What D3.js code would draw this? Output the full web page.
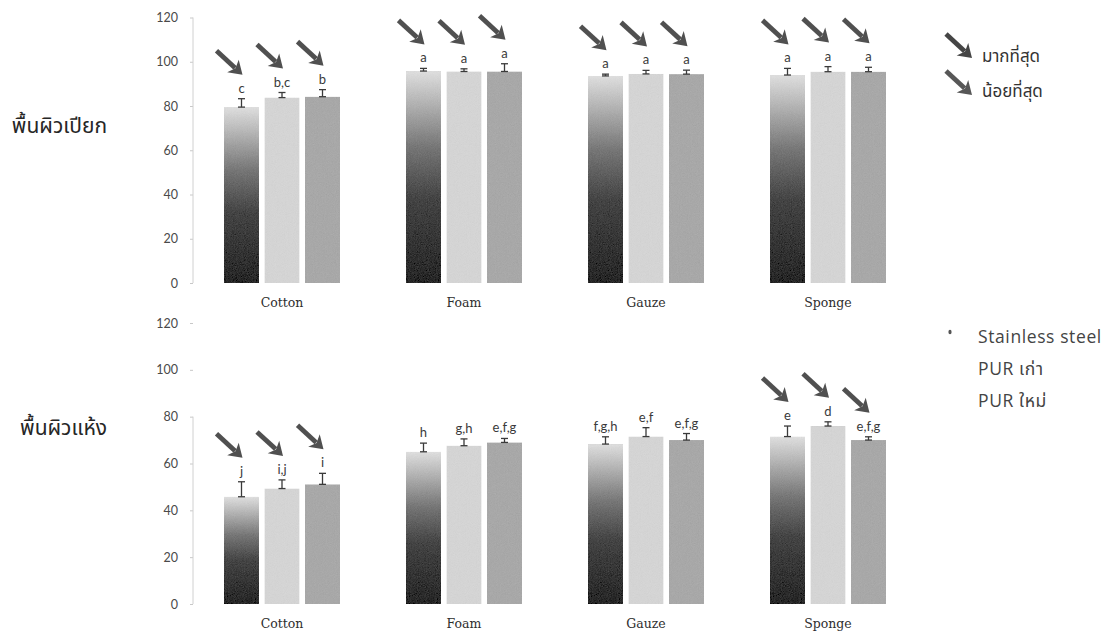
<!DOCTYPE html>
<html>
<head>
<meta charset="utf-8">
<script src="https://cdn.jsdelivr.net/npm/d3@7"></script>
<style>
  html, body { margin: 0; padding: 0; background: #fff; }
  svg { display: block; }
</style>
</head>
<body>
<svg id="chart" width="1120" height="635"></svg>
<script>
// Groups, series and tick values
const categories = ["Cotton", "Foam", "Gauze", "Sponge"];
const seriesNames = ["Stainless steel", "PUR เก่า", "PUR ใหม่"];
const yTicks = [0, 20, 40, 60, 80, 100, 120];

// Wet surface (พื้นผิวเปียก): means, error, letters, arrow marks
const wetValues = [[79.5, 83.8, 84.2], [95.8, 95.6, 95.6], [93.6, 94.5, 94.4], [94.0, 95.5, 95.5]];
const wetErrors = [[3.8, 2.3, 3.2], [1.2, 1.2, 3.5], [0.8, 1.6, 1.8], [3.0, 2.3, 2.0]];
const wetLetters = [["c", "b,c", "b"], ["a", "a", "a"], ["a", "a", "a"], ["a", "a", "a"]];
const wetArrows = [[1, 1, 1], [1, 1, 1], [1, 1, 1], [1, 1, 1]];

// Dry surface (พื้นผิวแห้ง)
const dryValues = [[45.8, 49.3, 51.1], [65.0, 67.6, 69.0], [68.3, 71.5, 70.0], [71.5, 76.0, 70.0]];
const dryErrors = [[6.4, 3.7, 4.7], [3.7, 2.9, 1.7], [3.1, 3.8, 2.8], [4.5, 1.8, 1.4]];
const dryLetters = [["j", "i,j", "i"], ["h", "g,h", "e,f,g"], ["f,g,h", "e,f", "e,f,g"], ["e", "d", "e,f,g"]];
const dryArrows = [[1, 1, 1], [0, 0, 0], [0, 0, 0], [1, 1, 1]];

const THAI = "'Noto Sans Thai', 'Loma', 'Garuda', 'Norasi', 'Tlwg Typo', 'DejaVu Sans', sans-serif";
const THAI_SERIF = "'Norasi', 'Noto Serif Thai', 'Loma', 'Garuda', serif";
const svg = d3.select("#chart");
const defs = svg.append("defs");

// Stainless steel bars fade from light at the top to near black at the base
const grad = defs.append("linearGradient").attr("id", "steelGrad")
  .attr("x1", 0).attr("y1", 0).attr("x2", 0).attr("y2", 1);
[[0, "#dedede"], [0.12, "#bcbcbc"], [0.36, "#767676"], [0.6, "#444"], [1, "#262626"]]
  .forEach(([o, c]) => grad.append("stop").attr("offset", o).attr("stop-color", c));

// Fine speckle over the bar fills
const grain = defs.append("filter").attr("id", "grain")
  .attr("x", 0).attr("y", 0).attr("width", 1).attr("height", 1);
grain.append("feTurbulence").attr("type", "fractalNoise").attr("baseFrequency", 1.1)
  .attr("numOctaves", 2).attr("seed", 3).attr("result", "noise");
grain.append("feColorMatrix").attr("in", "noise").attr("type", "matrix")
  .attr("values", "0.33 0.33 0.33 0 0  0.33 0.33 0.33 0 0  0.33 0.33 0.33 0 0  0 0 0 0 1")
  .attr("result", "gray");
grain.append("feComposite").attr("in", "SourceGraphic").attr("in2", "gray")
  .attr("operator", "arithmetic").attr("k1", 0).attr("k2", 1).attr("k3", 0.12).attr("k4", -0.06)
  .attr("result", "mix");
grain.append("feComposite").attr("in", "mix").attr("in2", "SourceGraphic").attr("operator", "in");

const fills = ["url(#steelGrad)", "#d4d4d4", "#a8a8a8"];

const x0 = d3.scaleBand().domain(categories).range([191, 919]).padding(0);
const x1 = d3.scaleBand().domain(seriesNames).range([33, 149]).paddingInner(0.136).paddingOuter(0);

function arrow(g, tx, ty, color) {
  const dx = 26, dy = 24, len = Math.hypot(dx, dy);
  const ux = dx / len, uy = dy / len;
  const hl = 13, hw = 8.5;
  const bx = tx - ux * hl, by = ty - uy * hl;
  g.append("line")
    .attr("x1", tx - dx).attr("y1", ty - dy)
    .attr("x2", bx + ux * 3).attr("y2", by + uy * 3)
    .attr("stroke", color).attr("stroke-width", 4.8);
  g.append("path")
    .attr("d", `M${tx},${ty} L${bx - uy * hw},${by + ux * hw} L${bx + ux * 3.5},${by + uy * 3.5} L${bx + uy * hw},${by - ux * hw} Z`)
    .attr("fill", color);
}

function panel(opts) {
  const { values, errors, letters, arrows, y0, y1, axisTop } = opts;
  const y = d3.scaleLinear().domain([0, 120]).range([y0, y1]);
  const g = svg.append("g");

  // y axis
  const ax = g.append("g").attr("transform", "translate(193,0)")
    .call(d3.axisLeft(y).tickValues(yTicks).tickSize(3).tickPadding(12).tickFormat(d3.format("d")));
  ax.select(".domain").remove();
  ax.selectAll(".tick line").attr("stroke", "#c8c8c8");
  ax.selectAll("text").attr("fill", "#4a4a4a").style("font-family", "Lato, 'Open Sans', sans-serif").style("font-size", "12.5px");
  g.append("line").attr("x1", 193).attr("x2", 193).attr("y1", y(0)).attr("y2", y(axisTop))
    .attr("stroke", "#d0d0d0").attr("stroke-width", 1);

  categories.forEach((cat, ci) => {
    const gg = g.append("g").attr("transform", `translate(${x0(cat)},0)`);
    seriesNames.forEach((s, si) => {
      const v = values[ci][si], e = errors[ci][si];
      const bx = x1(s), bw = x1.bandwidth(), cx = bx + bw / 2;
      gg.append("rect")
        .attr("x", bx).attr("y", y(v)).attr("width", bw).attr("height", y(0) - y(v))
        .attr("fill", fills[si]).attr("filter", "url(#grain)");
      // error bar (upper half)
      const yt = y(v + e), yb = y(v);
      gg.append("line").attr("x1", cx).attr("x2", cx).attr("y1", yt).attr("y2", yb)
        .attr("stroke", "#3a3a3a").attr("stroke-width", 1.3);
      [yt, yb].forEach(yy => gg.append("line").attr("x1", cx - 3.5).attr("x2", cx + 3.5)
        .attr("y1", yy).attr("y2", yy).attr("stroke", "#3a3a3a").attr("stroke-width", 1.3));
      const ly = yt - 6;
      gg.append("text").attr("x", cx).attr("y", ly).attr("text-anchor", "middle")
        .style("font-family", "Lato, 'Open Sans', sans-serif").style("font-size", "13px")
        .attr("fill", "#3a3a3a").text(letters[ci][si]);
      if (arrows[ci][si]) arrow(gg, cx + 1, ly - 18, "#505050");
    });
    g.append("text").attr("x", x0(cat) + x0.bandwidth() / 2).attr("y", opts.catY)
      .attr("text-anchor", "middle").style("font-family", "'DejaVu Serif', 'Liberation Serif', serif")
      .style("font-size", "12.5px").attr("fill", "#2e2e2e").text(cat);
  });

  g.append("text").attr("x", 107).attr("y", opts.titleY).attr("text-anchor", "end")
    .style("font-family", THAI).style("font-size", "21px").attr("fill", "#262626").text(opts.title);
}

panel({ values: wetValues, errors: wetErrors, letters: wetLetters, arrows: wetArrows,
  y0: 283, y1: 17.5, axisTop: 120, catY: 307, title: "พื้นผิวเปียก", titleY: 133 });
panel({ values: dryValues, errors: dryErrors, letters: dryLetters, arrows: dryArrows,
  y0: 604, y1: 323, axisTop: 80, catY: 628, title: "พื้นผิวแห้ง", titleY: 435 });

// Arrow key
const key = svg.append("g");
arrow(key, 972, 58, "#454545");
arrow(key, 972, 95, "#575757");
key.append("text").attr("x", 982).attr("y", 62).style("font-family", THAI).style("font-size", "17px")
  .attr("fill", "#333").text("มากที่สุด");
key.append("text").attr("x", 982).attr("y", 97).style("font-family", THAI).style("font-size", "17px")
  .attr("fill", "#333").text("น้อยที่สุด");

// Series legend
const leg = svg.append("g");
leg.append("ellipse").attr("cx", 950).attr("cy", 332).attr("rx", 1.6).attr("ry", 2.2).attr("fill", "#555");
seriesNames.forEach((s, i) => {
  leg.append("text").attr("x", 978).attr("y", 343 + i * 32)
    .style("font-family", "'Open Sans', " + THAI).style("font-size", "17.5px")
    .style("letter-spacing", "0.6px")
    .attr("fill", "#444").text(s);
});
</script>
</body>
</html>
